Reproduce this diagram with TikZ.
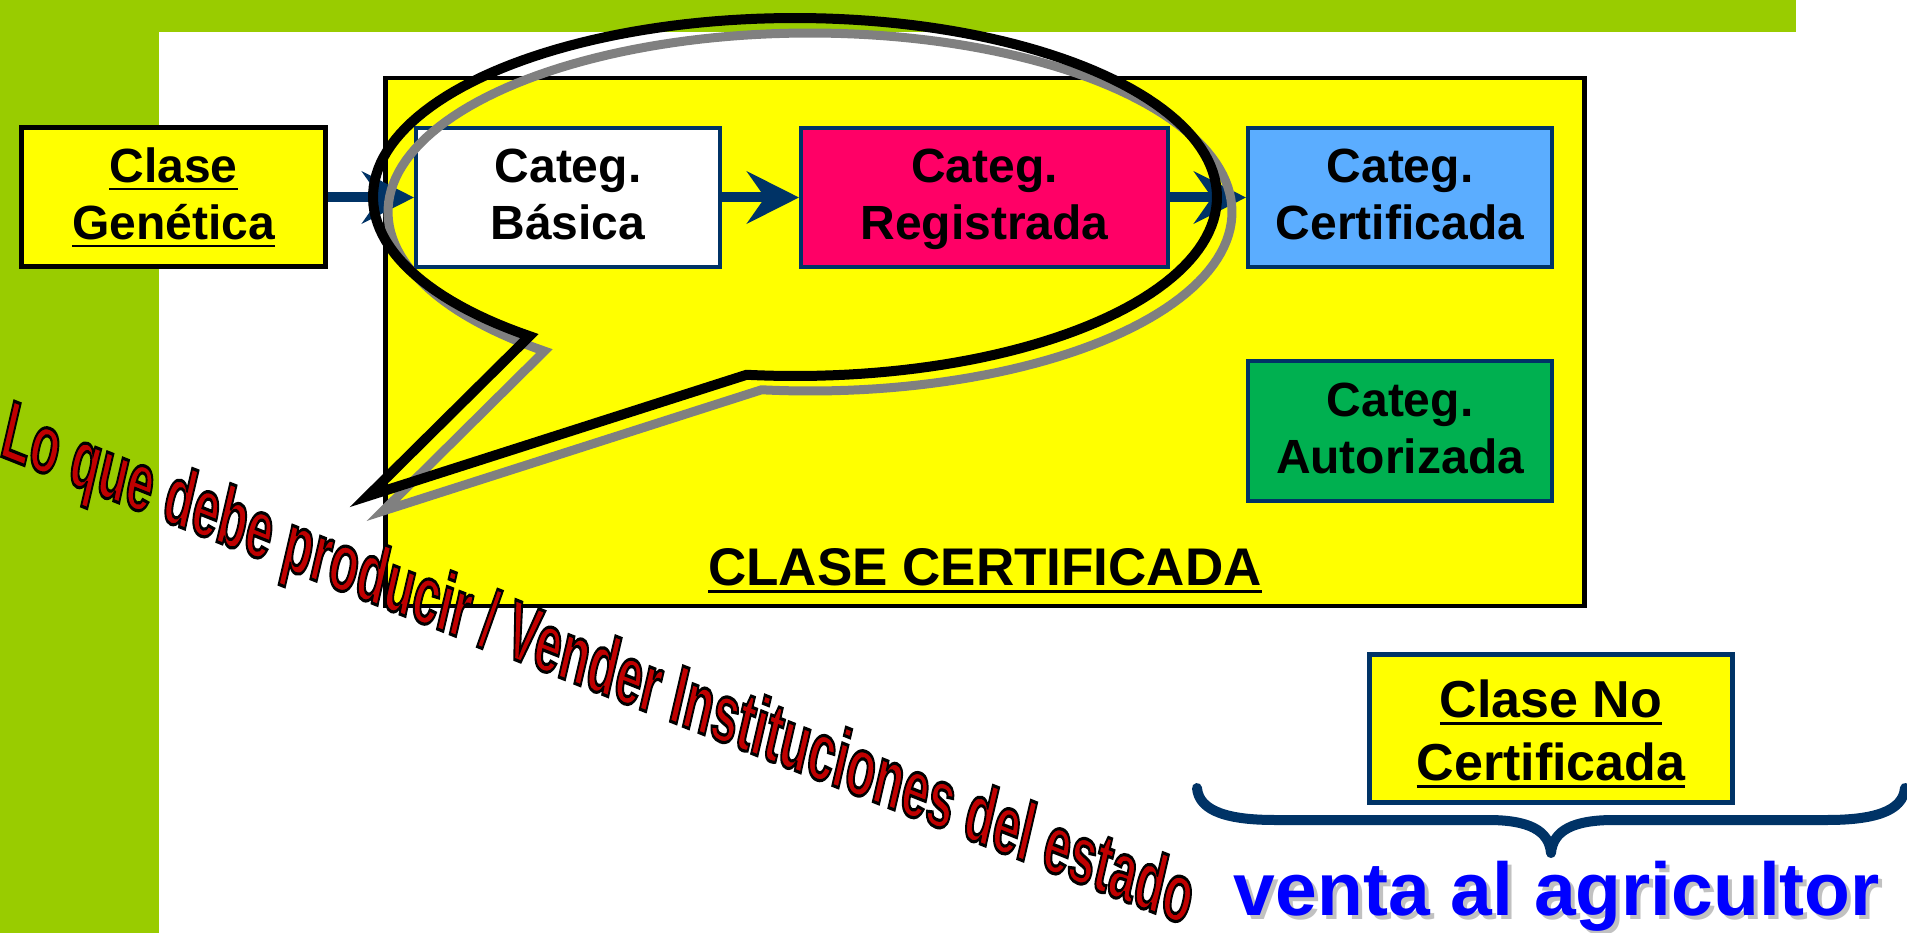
\documentclass[tikz,border=0pt]{standalone}
\usepackage{fontspec}
\setmainfont{Liberation Sans}
\usetikzlibrary{arrows.meta}
\definecolor{lime}{RGB}{153,204,0}
\definecolor{dblue}{RGB}{0,51,102}
\definecolor{yel}{RGB}{255,255,0}
\definecolor{pinkc}{RGB}{255,0,102}
\definecolor{lblue}{RGB}{91,173,255}
\definecolor{grn}{RGB}{0,176,80}
\definecolor{dred}{RGB}{192,0,0}
\definecolor{vblue}{RGB}{0,0,255}
\newsavebox\ulbox
\newcommand\ulx[1]{\sbox\ulbox{#1}\rlap{\rule[-7.5pt]{\wd\ulbox}{2.6pt}}\usebox\ulbox}
\newcommand\twol[2]{\rule[-10pt]{0pt}{48pt}#1\\\rule[-10pt]{0pt}{48pt}#2}
\newcommand\diagtext{\resizebox{1278pt}{59pt}{\fontsize{78}{80}\selectfont\bfseries
  \special{pdf:literal direct 2 Tr 3 w 0 0 0 RG}Lo que debe producir / Vender Instituciones del estado\special{pdf:literal direct 0 Tr}}}
\tikzset{
  cat/.style={draw=dblue, line width=4pt, minimum width=304pt, minimum height=139pt,
    inner sep=0pt, align=center, text=black, font=\fontsize{48}{57}\selectfont\bfseries},
  arr/.style={draw=dblue, line width=10pt, -{Stealth[length=52pt,width=52pt,inset=18pt]}},
  diag/.style={anchor=base west, rotate=-21.6, xslant=-0.15, inner sep=0pt}
}
\begin{document}
\begin{tikzpicture}[x=1pt,y=-1pt]
\useasboundingbox (0,0) rectangle (1907,933);
\fill[white] (0,0) rectangle (1907,933);
% green bars
\fill[lime] (0,0) rectangle (1796,32);
\fill[lime] (0,0) rectangle (159,933);
% big yellow box
\node[draw=black, line width=4.5pt, fill=yel, minimum width=1199pt, minimum height=528pt, inner sep=0pt] (big) at (985,342) {};
\node[font=\fontsize{53}{60}\selectfont\bfseries, anchor=base, inner sep=0pt] (bigl) at (985,585) {\ulx{CLASE CERTIFICADA}};
% boxes
\node[cat, fill=yel, draw=black, line width=5pt] (gen) at (173.5,197.5) {\twol{\ulx{Clase}}{\ulx{Genética}}};
\node[cat, fill=white] (bas) at (568,197.5) {\twol{Categ.}{Básica}};
\node[cat, fill=pinkc, minimum width=367pt] (reg) at (984.5,197.5) {\twol{Categ.}{Registrada}};
\node[cat, fill=lblue] (cer) at (1400,197.5) {\twol{Categ.}{Certificada}};
\node[cat, fill=grn, minimum height=140pt] (aut) at (1400,431) {\twol{Categ.}{Autorizada}};
% arrows
\draw[arr] (gen) -- (bas);
\draw[arr] (bas) -- (reg);
\draw[arr] (reg) -- (cer);
% no certificada
\node[cat, fill=yel, line width=5pt, minimum width=363pt, minimum height=148pt,
  font=\fontsize{52}{63}\selectfont\bfseries] (clno) at (1551,728.5)
  {\rule[-10pt]{0pt}{60pt}\ulx{Clase No}\\\rule[-10pt]{0pt}{60pt}\ulx{Certificada}};
% brace
\draw[dblue, line width=10pt, line cap=round, line join=round]
  (1197,788) .. controls (1199,812) and (1230,820) .. (1275,820) -- (1488,820)
  .. controls (1528,820) and (1549,830) .. (1551,853)
  .. controls (1553,830) and (1574,820) .. (1614,820) -- (1827,820)
  .. controls (1872,820) and (1903,812) .. (1905,788);
\node[font=\fontsize{75}{80}\selectfont\bfseries, text=black!40, opacity=0.6, anchor=base, inner sep=0pt] at (1561,919) {venta al agricultor};
\node[font=\fontsize{75}{80}\selectfont\bfseries, text=vblue, anchor=base, inner sep=0pt] (venta) at (1557,915) {venta al agricultor};
% callout shadow and callout
\draw[black!50, line width=9pt, line join=miter, shift={(15,15)}]
  plot[domain=0:327.6, samples=170] ({795+422*cos(96.6-\x)},{197+179*sin(96.6-\x)}) -- (368,496) -- cycle;
\draw[black, line width=10pt, line join=miter]
  plot[domain=0:327.6, samples=170] ({795+422*cos(96.6-\x)},{197+179*sin(96.6-\x)}) -- (368,496) -- cycle;
% diagonal text, red with black outline
\node[diag, text=dred] (diagt) at (-2,455) {\diagtext};
\end{tikzpicture}
\end{document}
